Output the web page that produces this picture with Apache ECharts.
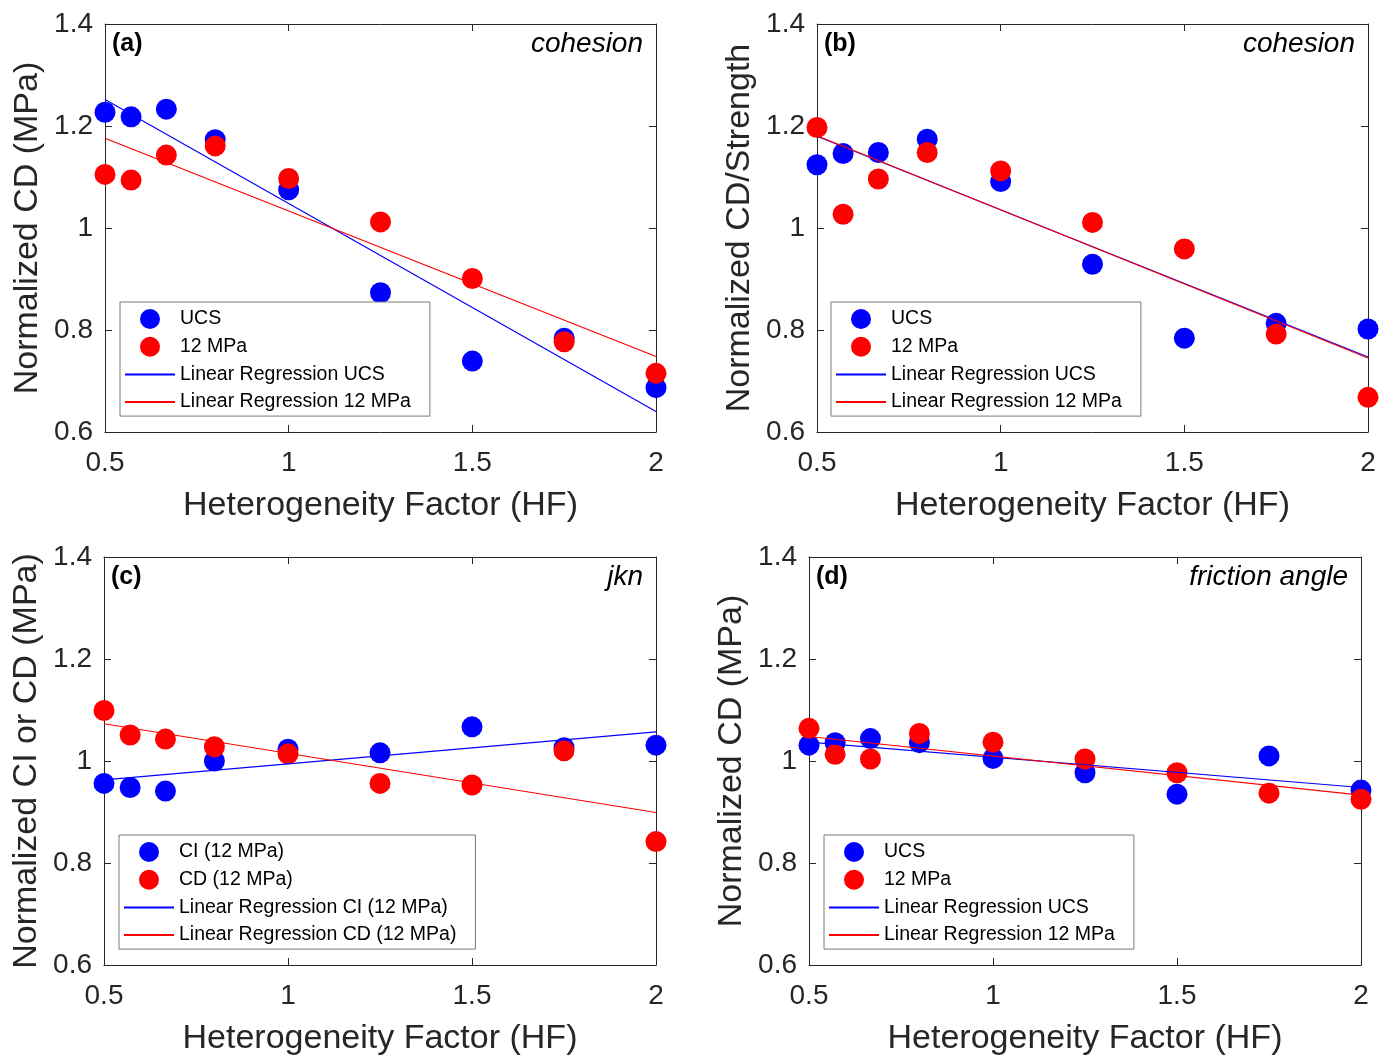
<!DOCTYPE html>
<html>
<head>
<meta charset="utf-8">
<script src="https://cdn.jsdelivr.net/npm/echarts@6/dist/echarts.min.js"></script>
<style>
html,body{margin:0;padding:0;background:#fff;}
#chart{width:1384px;height:1057px;}
</style>
</head>
<body>
<div id="chart"></div>
<script>
// ---- Data ----
const hf = [0.5, 0.571, 0.667, 0.8, 1, 1.25, 1.5, 1.75, 2];
const fitX = [0.5, 2];

// (a) cohesion
const aUCS = [1.227, 1.218, 1.233, 1.173, 1.075, 0.873, 0.739, 0.784, 0.687];
const a12  = [1.105, 1.094, 1.143, 1.161, 1.097, 1.012, 0.901, 0.777, 0.715];
const aFitUCS = [1.252, 0.640];
const aFit12  = [1.176, 0.748];

// (b) cohesion (CD/Strength)
const bUCS = [1.124, 1.146, 1.148, 1.174, 1.091, 0.929, 0.784, 0.813, 0.802];
const b12  = [1.197, 1.027, 1.096, 1.148, 1.112, 1.011, 0.959, 0.792, 0.668];
const bFitUCS = [1.180, 0.747];
const bFit12  = [1.181, 0.745];

// (c) jkn
const cCI = [0.956, 0.948, 0.941, 1.000, 1.023, 1.016, 1.067, 1.026, 1.031];
const cCD = [1.099, 1.051, 1.043, 1.028, 1.014, 0.956, 0.953, 1.020, 0.842];
const cFitCI = [0.963, 1.057];
const cFitCD = [1.073, 0.899];

// (d) friction angle
const dUCS = [1.031, 1.036, 1.044, 1.036, 1.005, 0.977, 0.935, 1.010, 0.943];
const d12  = [1.064, 1.013, 1.004, 1.054, 1.037, 1.004, 0.977, 0.937, 0.925];
const dFitUCS = [1.037, 0.948];
const dFit12  = [1.048, 0.933];

const xTicks = [0.5, 1, 1.5, 2];
const yTicks = [0.6, 0.8, 1, 1.2, 1.4];

const panelLabels = ['(a)', '(b)', '(c)', '(d)'];
const panelNotes = ['cohesion', 'cohesion', 'jkn', 'friction angle'];
const yTitles = ['Normalized CD (MPa)', 'Normalized CD/Strength', 'Normalized CI or CD (MPa)', 'Normalized CD (MPa)'];
const xTitle = 'Heterogeneity Factor (HF)';
const legendNames = [
  ['UCS', '12 MPa', 'Linear Regression UCS', 'Linear Regression 12 MPa'],
  ['UCS', '12 MPa', 'Linear Regression UCS', 'Linear Regression 12 MPa'],
  ['CI (12 MPa)', 'CD (12 MPa)', 'Linear Regression CI (12 MPa)', 'Linear Regression CD (12 MPa)'],
  ['UCS', '12 MPa', 'Linear Regression UCS', 'Linear Regression 12 MPa']
];
const panelData = [
  [aUCS, a12, aFitUCS, aFit12],
  [bUCS, b12, bFitUCS, bFit12],
  [cCI, cCD, cFitCI, cFitCD],
  [dUCS, d12, dFitUCS, dFit12]
];

// ---- Layout ----
const FONT = '"Liberation Sans", Arial, Helvetica, sans-serif';
const AX = '#262626';
const grids = [
  {left: 105, top: 24, width: 551, height: 408},
  {left: 817, top: 24, width: 551, height: 408},
  {left: 104, top: 557, width: 552, height: 408},
  {left: 809, top: 557, width: 552, height: 408}
];
const legendPos = [
  {left: 120, top: 302},
  {left: 831, top: 302},
  {left: 119, top: 835},
  {left: 824, top: 835}
];

const xAxes = [], yAxes = [], series = [], legends = [], graphics = [];
grids.forEach((g, i) => {
  const common = {
    gridIndex: i, type: 'value', min: 0.5, max: 2, interval: 0.5,
    axisLine: {show: true, onZero: false, lineStyle: {color: AX, width: 1}},
    axisTick: {show: true, inside: true, length: 7, lineStyle: {color: AX}},
    splitLine: {show: false}
  };
  xAxes.push(Object.assign({}, common, {
    position: 'bottom',
    axisLabel: {show: true, color: AX, fontSize: 28, fontFamily: FONT, margin: 17},
    name: xTitle, nameLocation: 'middle', nameGap: 57,
    nameTextStyle: {color: AX, fontSize: 34, fontFamily: FONT}
  }));
  xAxes.push(Object.assign({}, common, {position: 'top', axisLabel: {show: false}}));
  const ycommon = {
    gridIndex: i, type: 'value', min: 0.6, max: 1.4, interval: 0.2,
    axisLine: {show: true, onZero: false, lineStyle: {color: AX, width: 1}},
    axisTick: {show: true, inside: true, length: 7, lineStyle: {color: AX}},
    splitLine: {show: false}
  };
  yAxes.push(Object.assign({}, ycommon, {
    position: 'left',
    axisLabel: {show: true, color: AX, fontSize: 28, fontFamily: FONT, margin: 12,
      formatter: v => String(Math.round(v * 10) / 10)},
    name: yTitles[i], nameLocation: 'middle', nameGap: 60,
    nameTextStyle: {color: AX, fontSize: 34, fontFamily: FONT}
  }));
  yAxes.push(Object.assign({}, ycommon, {position: 'right', axisLabel: {show: false}}));

  const [s1, s2, f1, f2] = panelData[i];
  const names = legendNames[i];
  const xi = i * 2, yi = i * 2;
  series.push({
    type: 'scatter', name: names[0], xAxisIndex: xi, yAxisIndex: yi,
    symbol: 'circle', symbolSize: 21, itemStyle: {color: '#0000ff', opacity: 1},
    data: hf.map((x, k) => [x, s1[k]]), z: 2
  });
  series.push({
    type: 'scatter', name: names[1], xAxisIndex: xi, yAxisIndex: yi,
    symbol: 'circle', symbolSize: 21, itemStyle: {color: '#ff0000', opacity: 1},
    data: hf.map((x, k) => [x, s2[k]]), z: 3
  });
  series.push({
    type: 'line', name: names[2], xAxisIndex: xi, yAxisIndex: yi,
    symbol: 'none', showSymbol: false, lineStyle: {color: '#0000ff', width: 1.2},
    itemStyle: {color: '#0000ff'},
    data: fitX.map((x, k) => [x, f1[k]]), z: 4
  });
  series.push({
    type: 'line', name: names[3], xAxisIndex: xi, yAxisIndex: yi,
    symbol: 'none', showSymbol: false, lineStyle: {color: '#ff0000', width: 1.2},
    itemStyle: {color: '#ff0000'},
    data: fitX.map((x, k) => [x, f2[k]]), z: 5
  });

  legends.push({
    show: true, orient: 'vertical', left: legendPos[i].left, top: legendPos[i].top,
    data: names.map((n, k) => k < 2
      ? {name: n, icon: 'circle'}
      : {name: n, itemStyle: {opacity: 0, color: 'rgba(0,0,0,0)', borderWidth: 0}}),
    itemWidth: 50, itemHeight: 20, itemGap: 7.7,
    padding: [7, 19, 4, 4],
    backgroundColor: '#ffffff', borderColor: '#7a7a7a', borderWidth: 1,
    textStyle: {color: '#000', fontSize: 19.5, fontFamily: FONT},
    selectedMode: false, z: 10
  });

  graphics.push({
    type: 'text', x: g.left + 7, y: g.top + 20, z: 20,
    style: {text: panelLabels[i], font: 'bold 25px ' + FONT, fill: '#000', align: 'left', verticalAlign: 'middle'}
  });
  graphics.push({
    type: 'text', x: g.left + g.width - 13, y: g.top + 20, z: 20,
    style: {text: panelNotes[i], font: 'italic 28px ' + FONT, fill: '#000', align: 'right', verticalAlign: 'middle'}
  });
});

const chart = echarts.init(document.getElementById('chart'), null, {renderer: 'canvas'});
chart.setOption({
  animation: false,
  backgroundColor: '#ffffff',
  grid: grids.map(g => Object.assign({containLabel: false}, g)),
  xAxis: xAxes,
  yAxis: yAxes,
  legend: legends,
  series: series,
  graphic: graphics
});
</script>
</body>
</html>
